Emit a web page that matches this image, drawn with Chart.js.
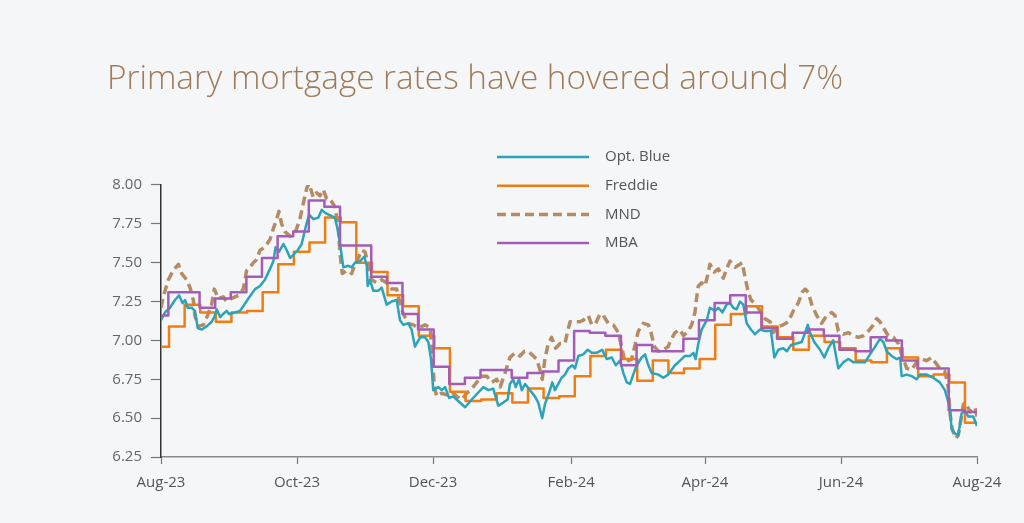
<!DOCTYPE html>
<html>
<head>
<meta charset="utf-8">
<script src="https://cdn.jsdelivr.net/npm/chart.js@4.4.1/dist/chart.umd.min.js"></script>
<style>
  html, body { margin: 0; padding: 0; background: #f5f6f8; }
  #wrap { width: 1024px; height: 523px; }
</style>
</head>
<body>
<div id="wrap"><canvas id="c" width="1024" height="523"></canvas></div>
<script>
// ---- DATA (x = days since 1 Aug 2023, y = rate %) ----
const titleText = 'Primary mortgage rates have hovered around 7%';
const seriesNames = ['Opt. Blue', 'Freddie', 'MND', 'MBA'];
const tickDays = [0, 61, 122, 184, 244, 305, 366];
const tickLabels = ['Aug-23', 'Oct-23', 'Dec-23', 'Feb-24', 'Apr-24', 'Jun-24', 'Aug-24'];

const optBlue = [[0,7.13],[1.8,7.18],[4.0,7.21],[6.3,7.26],[8.1,7.29],[9.6,7.24],[10.8,7.26],[12.0,7.21],[13.8,7.21],[15.2,7.19],[16.5,7.08],[18.3,7.07],[20.5,7.09],[22.7,7.12],[23.9,7.15],[25.0,7.20],[26.5,7.15],[27.9,7.17],[29.5,7.19],[30.5,7.17],[33.2,7.18],[35.4,7.19],[36.9,7.22],[39.2,7.27],[42.2,7.33],[44.4,7.35],[46.6,7.39],[48.9,7.46],[50.4,7.51],[51.4,7.60],[52.9,7.57],[54.9,7.62],[56.4,7.58],[57.9,7.53],[59.3,7.55],[61.3,7.58],[63.1,7.62],[64.9,7.73],[66.4,7.81],[68.3,7.78],[70.6,7.79],[72.1,7.84],[73.6,7.82],[78.0,7.79],[79.3,7.71],[80.7,7.58],[81.8,7.47],[84.0,7.48],[85.5,7.47],[87.0,7.50],[89.3,7.51],[91.2,7.54],[92.3,7.48],[92.7,7.35],[93.7,7.39],[95.2,7.32],[97.5,7.32],[99.0,7.34],[101.2,7.23],[103.5,7.25],[105.7,7.26],[107.2,7.13],[108.7,7.10],[110.9,7.11],[112.4,7.07],[113.9,6.96],[116.2,7.02],[118.4,7.02],[119.9,6.99],[121.1,6.88],[122.1,6.68],[124.4,6.70],[125.9,6.68],[127.4,6.70],[129.2,6.63],[131.1,6.64],[133.3,6.61],[136.4,6.57],[139.4,6.62],[142.0,6.66],[144.6,6.70],[146.8,6.68],[149.0,6.69],[151.3,6.58],[153.5,6.60],[155.5,6.62],[156.5,6.72],[158.0,6.75],[159.1,6.70],[160.6,6.75],[161.8,6.68],[163.3,6.72],[165.5,6.68],[167.7,6.64],[169.2,6.60],[171.0,6.50],[172.2,6.59],[174.0,6.66],[175.5,6.73],[176.7,6.68],[178.2,6.72],[179.7,6.76],[181.2,6.78],[182.7,6.82],[184.5,6.84],[185.7,6.82],[187.2,6.90],[189.4,6.91],[191.4,6.94],[193.2,6.92],[195.4,6.92],[197.9,6.94],[199.9,6.88],[202.2,6.89],[204.0,6.84],[205.9,6.87],[207.4,6.79],[208.9,6.73],[210.4,6.72],[211.8,6.78],[213.4,6.84],[215.6,6.89],[217.1,6.91],[218.6,6.84],[220.1,6.79],[223.1,6.78],[225.3,6.76],[227.5,6.78],[230.5,6.84],[232.8,6.87],[235.0,6.90],[237.3,6.90],[238.8,6.92],[239.8,6.88],[241.0,6.98],[242.5,7.07],[244.8,7.13],[246.2,7.21],[248.5,7.19],[250.0,7.21],[251.8,7.18],[253.7,7.23],[255.2,7.24],[256.7,7.21],[258.2,7.20],[259.7,7.25],[261.2,7.23],[262.7,7.11],[264.6,7.07],[266.4,7.04],[268.7,7.07],[270.9,7.06],[273.6,7.06],[275.1,6.89],[276.9,6.94],[279.1,6.95],[280.7,6.93],[282.6,6.97],[285.1,6.98],[287.4,6.99],[288.9,7.05],[290.1,7.10],[291.1,7.05],[293.0,6.99],[295.6,6.94],[297.5,6.89],[299.3,6.95],[301.5,7.00],[303.8,6.82],[306.1,6.86],[308.3,6.88],[310.5,6.86],[312.8,6.86],[315.8,6.86],[318.0,6.91],[320.3,6.96],[322.5,7.01],[324.0,6.99],[325.5,6.93],[327.7,6.90],[330.0,6.88],[331.5,6.89],[332.2,6.77],[334.5,6.78],[336.7,6.77],[338.9,6.75],[340.4,6.78],[343.4,6.78],[346.3,6.76],[349.3,6.73],[351.6,6.68],[353.8,6.57],[354.6,6.43],[356.1,6.40],[357.6,6.39],[359.1,6.53],[360.6,6.55],[362.1,6.51],[364.3,6.51],[366,6.45]];

const freddie = [[0,6.96],[3.6,7.09],[10.6,7.23],[17.6,7.18],[24.6,7.12],[31.6,7.18],[38.6,7.19],[45.6,7.31],[52.6,7.49],[59.6,7.57],[66.6,7.63],[73.6,7.79],[80.6,7.76],[87.6,7.50],[94.6,7.44],[101.6,7.29],[108.6,7.22],[115.6,7.03],[122.6,6.95],[129.6,6.67],[136.6,6.61],[143.6,6.62],[150.6,6.66],[157.6,6.60],[164.6,6.69],[171.6,6.63],[178.6,6.64],[185.6,6.77],[192.6,6.90],[199.6,6.94],[206.6,6.88],[213.6,6.74],[220.6,6.87],[227.6,6.79],[234.6,6.82],[241.6,6.88],[248.6,7.10],[255.6,7.17],[262.6,7.22],[269.6,7.09],[276.6,7.02],[283.6,6.94],[290.6,7.03],[297.6,6.99],[304.6,6.95],[311.6,6.87],[318.6,6.86],[325.6,6.95],[332.6,6.89],[339.6,6.77],[346.6,6.78],[353.6,6.73],[360.6,6.47],[366,6.47]];

const mnd = [[0,7.21],[1.0,7.28],[3.3,7.39],[5.5,7.45],[7.8,7.49],[9.3,7.43],[11.5,7.39],[13.0,7.34],[14.5,7.26],[15.2,7.16],[16.7,7.09],[19.0,7.10],[20.9,7.16],[22.7,7.23],[23.9,7.33],[25.7,7.27],[27.9,7.28],[29.5,7.25],[31.7,7.27],[34.7,7.29],[36.9,7.33],[38.4,7.45],[39.9,7.47],[41.4,7.50],[42.9,7.52],[44.4,7.58],[46.6,7.60],[48.9,7.65],[50.4,7.72],[51.9,7.78],[52.9,7.83],[54.1,7.75],[55.6,7.70],[57.9,7.67],[60.1,7.69],[62.3,7.78],[63.8,7.88],[65.4,7.98],[66.4,8.01],[68.3,7.92],[69.8,7.95],[71.3,7.93],[72.8,7.97],[74.3,7.91],[75.8,7.91],[78.0,7.86],[79.5,7.73],[80.3,7.56],[81.3,7.43],[83.3,7.45],[85.5,7.43],[87.0,7.49],[88.5,7.53],[90.0,7.58],[91.5,7.57],[93.0,7.49],[94.5,7.39],[96.7,7.37],[99.0,7.39],[101.2,7.37],[103.5,7.33],[105.7,7.33],[107.2,7.24],[108.7,7.17],[110.9,7.11],[113.2,7.10],[115.4,7.08],[118.4,7.10],[120.7,7.08],[121.7,6.92],[122.6,6.70],[123.7,6.64],[125.9,6.66],[128.1,6.65],[130.4,6.67],[132.6,6.64],[134.9,6.62],[137.1,6.66],[139.4,6.69],[141.6,6.73],[143.8,6.77],[146.1,6.77],[148.3,6.73],[150.6,6.75],[152.1,6.70],[154.3,6.79],[156.5,6.89],[158.8,6.92],[161.0,6.90],[163.0,6.93],[164.7,6.93],[167.0,6.90],[168.5,6.88],[170.0,6.81],[171.0,6.75],[172.2,6.88],[173.7,6.98],[175.2,7.02],[177.0,6.95],[179.0,6.98],[181.2,6.98],[182.4,7.06],[183.5,7.12],[185.7,7.12],[187.9,7.12],[189.4,7.13],[191.7,7.16],[193.2,7.10],[195.0,7.11],[196.9,7.17],[198.4,7.16],[200.6,7.11],[202.9,7.10],[205.1,7.05],[206.6,6.96],[208.1,6.86],[209.6,6.87],[211.1,6.88],[212.6,6.97],[214.1,7.06],[216.3,7.11],[218.6,7.10],[219.8,7.05],[221.3,6.96],[223.1,6.93],[225.3,6.94],[227.5,6.96],[228.3,6.99],[230.5,7.05],[232.8,7.07],[234.3,7.03],[236.5,7.06],[238.0,7.10],[239.5,7.18],[240.3,7.28],[241.0,7.35],[242.5,7.37],[244.0,7.35],[245.2,7.42],[246.2,7.49],[248.2,7.44],[250.0,7.46],[252.2,7.40],[253.7,7.46],[255.2,7.51],[257.5,7.47],[259.7,7.49],[260.7,7.50],[261.9,7.41],[263.1,7.33],[264.6,7.26],[266.4,7.24],[268.7,7.19],[270.9,7.14],[273.2,7.12],[274.6,7.05],[276.9,7.09],[279.1,7.10],[281.4,7.12],[283.6,7.19],[285.8,7.24],[287.6,7.31],[288.9,7.33],[290.3,7.31],[291.9,7.23],[294.1,7.16],[296.3,7.11],[298.6,7.16],[300.8,7.18],[302.3,7.16],[303.8,7.06],[306.1,7.04],[308.3,7.05],[310.5,7.03],[312.8,7.02],[315.0,7.03],[317.3,7.06],[319.5,7.10],[321.0,7.14],[322.5,7.12],[324.5,7.07],[326.2,7.03],[328.5,7.02],[330.7,6.98],[332.2,6.91],[334.5,6.82],[336.7,6.81],[338.9,6.86],[341.2,6.88],[343.4,6.87],[345.7,6.89],[347.2,6.86],[349.3,6.82],[351.6,6.80],[353.1,6.70],[353.9,6.53],[354.9,6.43],[356.4,6.37],[357.6,6.39],[358.8,6.49],[359.9,6.59],[360.9,6.60],[362.9,6.54],[365.1,6.57],[366,6.51]];

const mba = [[0,7.16],[3.3,7.31],[10.3,7.31],[17.3,7.21],[24.3,7.27],[31.3,7.31],[38.3,7.41],[45.3,7.53],[52.3,7.67],[59.3,7.70],[66.3,7.90],[73.3,7.86],[80.3,7.61],[87.3,7.61],[94.3,7.41],[101.3,7.37],[108.3,7.17],[115.3,7.07],[122.3,6.83],[129.3,6.72],[136.3,6.76],[143.3,6.81],[150.3,6.81],[157.3,6.76],[164.3,6.79],[171.3,6.80],[178.3,6.87],[185.3,7.06],[192.3,7.05],[199.3,7.03],[206.3,6.84],[213.3,6.97],[220.3,6.93],[227.3,6.93],[234.3,7.01],[241.3,7.13],[248.3,7.24],[255.3,7.29],[262.3,7.18],[269.3,7.08],[276.3,7.01],[283.3,7.05],[290.3,7.07],[297.3,7.03],[304.3,6.94],[311.3,6.93],[318.3,7.02],[325.3,7.00],[332.3,6.87],[339.3,6.82],[346.3,6.82],[353.3,6.55],[360.3,6.54],[366,6.54]];

// ---- CHART ----
const toPts = arr => arr.map(p => ({ x: p[0], y: p[1] }));
const FONT = "'Open Sans', 'Noto Sans', sans-serif";

const bgPlugin = {
  id: 'bg',
  beforeDraw(chart) {
    const c = chart.ctx;
    c.save();
    c.fillStyle = '#f5f6f8';
    c.fillRect(0, 0, chart.width, chart.height);
    c.restore();
  }
};

const legendPlugin = {
  id: 'stackLegend',
  afterDraw(chart) {
    const c = chart.ctx;
    c.save();
    chart.data.datasets.forEach((ds, i) => {
      const y = 157 + i * 28.7;
      c.beginPath();
      c.strokeStyle = ds.borderColor;
      c.lineWidth = ds.borderWidth;
      c.setLineDash(ds.borderDash || []);
      c.moveTo(497, y);
      c.lineTo(589, y);
      c.stroke();
      c.setLineDash([]);
      c.fillStyle = '#555';
      c.font = '15px ' + FONT;
      c.textBaseline = 'middle';
      c.textAlign = 'left';
      c.fillText(ds.label, 605, y);
    });
    c.restore();
  }
};

new Chart(document.getElementById('c'), {
  type: 'line',
  data: {
    datasets: [
      { label: seriesNames[0], data: toPts(optBlue), borderColor: '#2ba3b9', borderWidth: 2.5, order: 2 },
      { label: seriesNames[1], data: toPts(freddie), borderColor: '#ef7d12', borderWidth: 2.5, stepped: true, order: 3 },
      { label: seriesNames[2], data: toPts(mnd), borderColor: '#b58b64', borderWidth: 3.5, borderDash: [9, 5], order: 4 },
      { label: seriesNames[3], data: toPts(mba), borderColor: '#a45cb6', borderWidth: 2.5, stepped: true, order: 1 }
    ]
  },
  options: {
    responsive: false,
    animation: false,
    elements: {
      point: { radius: 0, hoverRadius: 0 },
      line: { tension: 0, borderJoinStyle: 'round', fill: false }
    },
    layout: { padding: { top: 0, left: 107, right: 47, bottom: 26 } },
    plugins: {
      legend: { display: false },
      tooltip: { enabled: false },
      title: {
        display: true,
        text: titleText,
        align: 'start',
        color: '#a07b57',
        font: { family: FONT, size: 33.3, weight: '300', lineHeight: 1.2 },
        padding: { top: 60, bottom: 85 }
      }
    },
    scales: {
      x: {
        type: 'linear',
        min: 0,
        max: 366,
        afterBuildTicks: (scale) => { scale.ticks = tickDays.map(v => ({ value: v })); },
        afterFit: (scale) => { scale.height = 40; },
        ticks: {
          autoSkip: false,
          maxRotation: 0,
          padding: 10,
          color: '#555',
          font: { family: FONT, size: 15 },
          callback: (v) => tickLabels[tickDays.indexOf(v)]
        },
        grid: { drawOnChartArea: false, drawTicks: true, tickLength: 7, tickColor: '#777', tickWidth: 1.2 },
        border: { display: true, color: '#888', width: 1.5 }
      },
      y: {
        min: 6.25,
        max: 8.0,
        afterFit: (scale) => { scale.width = 54; },
        ticks: {
          stepSize: 0.25,
          padding: 9,
          color: '#666',
          font: { family: FONT, size: 15 },
          callback: (v) => Number(v).toFixed(2)
        },
        grid: { drawOnChartArea: false, drawTicks: true, tickLength: 10, tickColor: '#777', tickWidth: 1.2 },
        border: { display: true, color: '#333', width: 1.5 }
      }
    }
  },
  plugins: [bgPlugin, legendPlugin]
});
</script>
</body>
</html>
